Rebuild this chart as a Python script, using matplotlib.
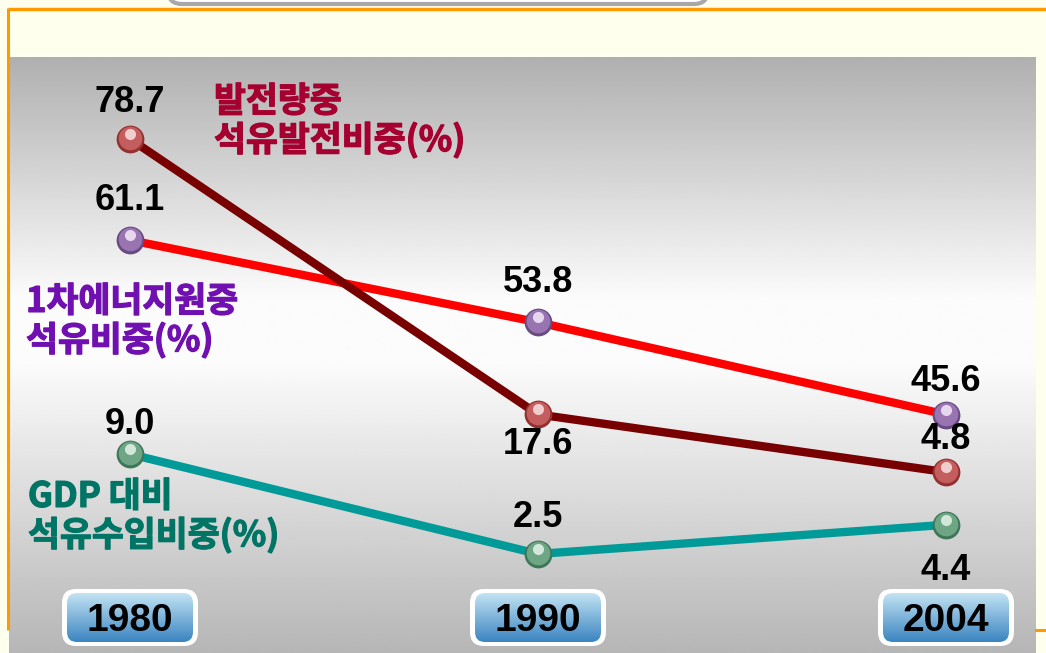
import numpy as np
import matplotlib
matplotlib.use("Agg")
import matplotlib.pyplot as plt
import matplotlib.patheffects as pe
from matplotlib.patches import FancyBboxPatch, Rectangle
from matplotlib.transforms import ScaledTranslation
from matplotlib.colors import LinearSegmentedColormap

# --- data -------------------------------------------------------------
years = ["1980", "1990", "2004"]

power_share = [78.7, 17.6, 4.8]      # 발전량중 석유발전비중(%)
primary_share = [61.1, 53.8, 45.6]   # 1차에너지원중 석유비중(%)
gdp_share = [9.0, 2.5, 4.4]          # GDP 대비 석유수입비중(%)

# each series sits on its own (hidden) value axis, like the hand-laid slide
power_ylim = (-35.3, 109.5)
primary_ylim = (24.4, 82.45)
gdp_ylim = (-3.95, 38.57)

# label offsets (pixels) above (-) / below (+) each point
power_lab_dy = [-36, 30, -33]
primary_lab_dy = [-40, -40, -33]
gdp_lab_dy = [-30, -36, 46]

W, H = 1046, 653
KO = ["Noto Sans CJK KR", "DejaVu Sans"]
NUM = ["Liberation Sans", "DejaVu Sans"]

fig = plt.figure(figsize=(W / 100, H / 100), dpi=100)
fig.patch.set_facecolor("#ffffee")

# --- background (pixel coords) ----------------------------------------
bg = fig.add_axes([0, 0, 1, 1])
bg.set_xlim(0, W)
bg.set_ylim(H, 0)
bg.axis("off")

bg.add_patch(FancyBboxPatch((168, -40), 540, 44, boxstyle="round,pad=0,rounding_size=14",
                            facecolor="white", edgecolor="#a8a8a8", linewidth=3, zorder=1))
bg.plot([8, W], [9, 9], color="#ff9900", lw=2.5, zorder=2, solid_capstyle="butt")
bg.plot([8, 8], [8, 630], color="#ff9900", lw=2.2, zorder=2, solid_capstyle="butt")
bg.plot([1036, W], [630, 630], color="#ff9900", lw=2.2, zorder=2)
bg.add_patch(Rectangle((9.5, 10.5), 1030, 48, facecolor="#ffffee", edgecolor="none", zorder=1))

# gray - white - gray gradient panel
ys = np.linspace(57, H, 300)
shade = np.interp(ys, [57, 300, 360, H], [176, 252, 252, 182]) / 255.0
grad = np.repeat(shade[:, None], 2, axis=1)
bg.imshow(grad, cmap="gray", vmin=0, vmax=1, extent=[9, 1036, H, 57],
          aspect="auto", interpolation="bilinear", zorder=1)
bg.set_xlim(0, W)
bg.set_ylim(H, 0)


# series captions (thin stroke of the same colour gives the heavy look)
def caption(px, py, txt, color):
    bg.text(px, py, txt, family=KO, fontsize=25, fontweight="bold", color=color,
            va="center", ha="left", linespacing=1.1, zorder=5,
            path_effects=[pe.withStroke(linewidth=0.9, foreground=color)])


caption(214, 121, "발전량중\n석유발전비중(%)", "#a5002f")
caption(26, 321, "1차에너지원중\n석유비중(%)", "#7010b0")
caption(28, 516, "GDP 대비\n석유수입비중(%)", "#007566")

# --- series -----------------------------------------------------------
x = np.arange(len(years))
xlim = (-130 / 408.0, 2 + (W - 946) / 408.0)


def sphere(ax, xs, vals, dark, mid, light):
    ax.plot(xs, vals, "o", ms=20, color=dark, mec="none", zorder=4)
    ax.plot(xs, vals, "o", ms=17, color=mid, mec="none", zorder=5,
            transform=ax.transData + ScaledTranslation(0, 0.01, fig.dpi_scale_trans))
    ax.plot(xs, vals, "o", ms=8, color=light, mec="none", zorder=6, alpha=0.9,
            transform=ax.transData + ScaledTranslation(0, 0.05, fig.dpi_scale_trans))


def draw_series(vals, ylim, color, sph, dys):
    ax = fig.add_axes([0, 0, 1, 1], facecolor="none")
    ax.set_xlim(*xlim)
    ax.set_ylim(*ylim)
    ax.axis("off")
    ax.plot(x, vals, color=color, lw=6, zorder=3, solid_capstyle="butt")
    sphere(ax, x, vals, *sph)
    for xi, v, dy in zip(x, vals, dys):
        ax.annotate(f"{v:.1f}", (xi, v), xytext=(0, -dy), textcoords="offset pixels",
                    ha="center", va="center", family=NUM, fontsize=26,
                    fontweight="bold", color="black", zorder=7)
    return ax


ax1 = draw_series(primary_share, primary_ylim, "#ff0000",
                  ("#6a4a82", "#9874b0", "#efe2f5"), primary_lab_dy)
ax2 = draw_series(power_share, power_ylim, "#780000",
                  ("#933030", "#c45e5e", "#f8dada"), power_lab_dy)
ax3 = draw_series(gdp_share, gdp_ylim, "#009b98",
                  ("#3e7758", "#6ea584", "#dcefe4"), gdp_lab_dy)

# --- year boxes on the category positions ------------------------------
to_px = ax1.transData + bg.transData.inverted()
box_grad = np.linspace(0, 1, 100)[:, None]
blue = LinearSegmentedColormap.from_list("blue", ["#c2e3f3", "#3b85c1"])
for xi, yr in zip(x, years):
    cx = to_px.transform((xi, 0))[0]
    outer = FancyBboxPatch((cx - 68, 589), 136, 57, boxstyle="round,pad=0,rounding_size=14",
                           facecolor="white", edgecolor="none", zorder=6)
    bg.add_patch(outer)
    inner = FancyBboxPatch((cx - 63, 593), 126, 49, boxstyle="round,pad=0,rounding_size=10",
                           facecolor="none", edgecolor="none", zorder=7)
    bg.add_patch(inner)
    im = bg.imshow(box_grad, cmap=blue, extent=[cx - 63, cx + 63, 642, 593],
                   aspect="auto", zorder=7)
    im.set_clip_path(inner)
    bg.text(cx, 621, yr, ha="center", va="center", family=NUM, fontsize=28,
            fontweight="bold", color="black", zorder=8)

bg.set_xlim(0, W)
bg.set_ylim(H, 0)

fig.savefig("out.png", dpi=100)
